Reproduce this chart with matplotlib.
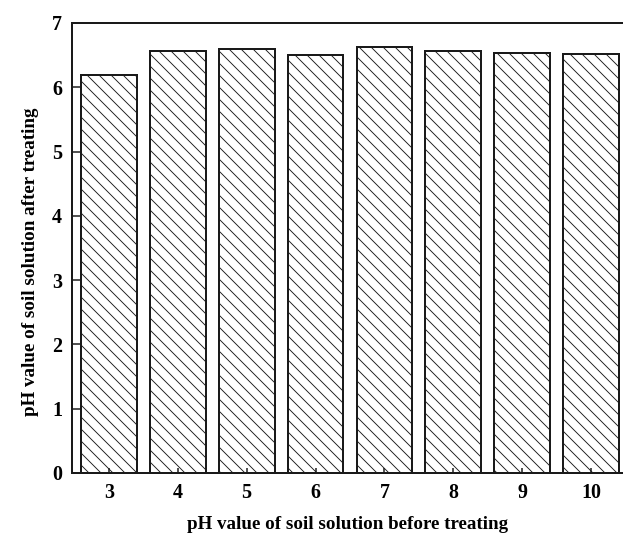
import matplotlib
matplotlib.use("Agg")
import matplotlib.pyplot as plt
import numpy as np

# pH of soil solution before / after treating
ph_before = ["3", "4", "5", "6", "7", "8", "9", "10"]
ph_after = [6.19, 6.57, 6.59, 6.50, 6.63, 6.56, 6.54, 6.52]

plt.rcParams["font.family"] = ["Liberation Serif", "DejaVu Serif"]
plt.rcParams["hatch.linewidth"] = 0.9

DPI = 72
W, H = 623, 538
fig = plt.figure(figsize=(W / DPI, H / DPI), dpi=DPI)
ax = fig.add_axes([72 / W, 65 / H, 552 / W, 450 / H])

x = np.arange(len(ph_before))
ax.bar(x, ph_after, width=0.81, facecolor="white", edgecolor="#1a1a1a",
       linewidth=2.0, hatch="\\\\")

ax.set_xlim(-0.537, 7.48)
ax.set_ylim(0, 7)
ax.set_xticks(x)
ax.set_xticklabels(ph_before)
ax.set_yticks(range(0, 8))

for s in ("left", "top", "bottom"):
    ax.spines[s].set_linewidth(2.0)
    ax.spines[s].set_color("#1a1a1a")
ax.spines["right"].set_visible(False)

ax.tick_params(axis="both", direction="in", length=8, width=1.5,
               labelsize=20, color="#1a1a1a")
ax.tick_params(axis="x", length=5, pad=10)
ax.tick_params(axis="y", pad=10)
for lab in ax.get_xticklabels() + ax.get_yticklabels():
    lab.set_fontweight("bold")

ax.set_xlabel("pH value of soil solution before treating", fontsize=19,
              fontweight="bold")
ax.set_ylabel("pH value of soil solution after treating", fontsize=19,
              fontweight="bold")
ax.xaxis.set_label_coords(0.5, -43 / 450)
ax.yaxis.set_label_coords(-33 / 552, 0.47)

fig.savefig("out.png", dpi=DPI)
plt.close(fig)
